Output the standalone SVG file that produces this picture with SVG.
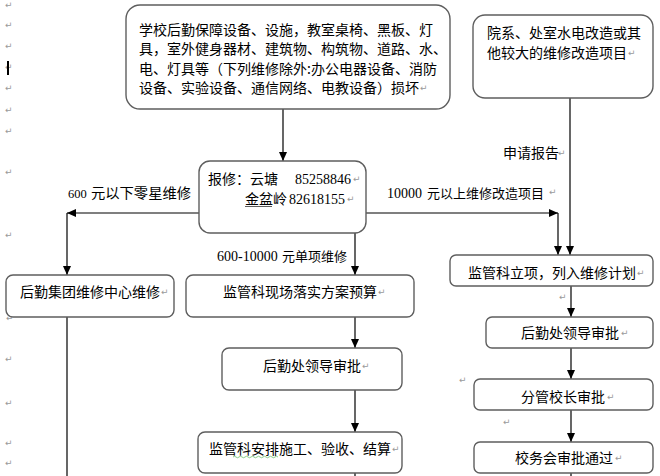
<svg xmlns="http://www.w3.org/2000/svg" width="660" height="476" viewBox="0 0 660 476">
<style>
.box{fill:#fff;stroke:#5e5e5e;stroke-width:1.4}
.t{font-family:"Noto Sans CJK SC","Noto Sans",sans-serif;font-size:14px;fill:#000}
.n{font-family:"Liberation Serif","Times New Roman",serif;font-size:14px;fill:#000}
.m{font-family:"DejaVu Sans",sans-serif;font-size:9px;fill:#9a9a9a}
.c{stroke:#000;stroke-width:1.2;fill:none}
</style>
<defs>
<marker id="ah" viewBox="0 0 10 10" refX="10" refY="5" markerWidth="9" markerHeight="8" markerUnits="userSpaceOnUse" orient="auto" preserveAspectRatio="none">
<path d="M0,0 L10,5 L0,10 z" fill="#000"/>
</marker>
</defs>
<rect width="660" height="476" fill="#fff"/>

<g id="margin-marks" class="m">
<text x="5" y="8">↵</text>
<text x="5" y="28">↵</text>
<text x="5" y="49">↵</text>
<text x="5" y="70">↵</text>
<text x="5" y="91">↵</text>
<text x="5" y="113">↵</text>
<text x="5" y="134">↵</text>
<text x="5" y="175">↵</text>
<text x="5" y="238">↵</text>
<text x="6" y="321">↵</text>
<text x="5" y="362">↵</text>
<text x="5" y="406">↵</text>
<text x="5" y="446">↵</text>
<text x="5" y="466">↵</text>
<text x="559" y="300">↵</text>
<text x="459" y="383">↵</text>
<text x="503" y="425">↵</text>
</g>
<rect x="7" y="61" width="2" height="14" fill="#000"/>

<g id="connectors">
<path class="c" d="M283,109 V161" marker-end="url(#ah)"/>
<path class="c" d="M199,213 H67" marker-end="url(#ah)"/>
<path class="c" d="M67,213 V275" marker-end="url(#ah)"/>
<path class="c" d="M366,213 H558" marker-end="url(#ah)"/>
<path class="c" d="M558,213 V255" marker-end="url(#ah)"/>
<path class="c" d="M570,98 V255" marker-end="url(#ah)"/>
<path class="c" d="M355,233 V275" marker-end="url(#ah)"/>
<path class="c" d="M67,317 V476"/>
<path class="c" d="M355,317 V348" marker-end="url(#ah)"/>
<path class="c" d="M355,390 V432" marker-end="url(#ah)"/>
<path class="c" d="M355,473 V476"/>
<path class="c" d="M571,286 V317" marker-end="url(#ah)"/>
<path class="c" d="M571,348 V379" marker-end="url(#ah)"/>
<path class="c" d="M571,410 V442" marker-end="url(#ah)"/>
<path class="c" d="M571,473 V476"/>
</g>

<g id="edge-labels">
<text class="n" x="68" y="198" style="font-size:12.5px">600</text>
<text class="t" x="91" y="198" textLength="100" lengthAdjust="spacingAndGlyphs">元以下零星维修</text>
<text class="n" x="387" y="198">10000</text>
<text class="t" x="427" y="198" style="font-size:13px">元以上维修改造项目</text>
<text class="m" x="549" y="195">↵</text>
<text class="n" x="217" y="261">600-10000</text>
<text class="t" x="282" y="261" style="font-size:13px">元单项维修</text>
<text class="t" x="503" y="158">申请报告</text>
<text class="m" x="558" y="156">↵</text>
</g>

<g id="n-damage">
<rect class="box" x="126" y="5" width="324" height="104" rx="14"/>
<text class="t" x="139" y="35">学校后勤保障设备、设施，教室桌椅、黑板、灯</text>
<text class="t" x="139" y="54">具，室外健身器材、建筑物、构筑物、道路、水、</text>
<text class="t" x="139" y="74">电、灯具等（下列维修除外:办公电器设备、消防</text>
<text class="t" x="139" y="93">设备、实验设备、通信网络、电教设备）损坏</text>
<text class="m" x="420" y="91">↵</text>
</g>

<g id="n-large">
<rect class="box" x="473" y="15" width="180" height="83" rx="12"/>
<text class="t" x="487" y="38">院系、处室水电改造或其</text>
<text class="t" x="487" y="58">他较大的维修改造项目</text>
<text class="m" x="628" y="56">↵</text>
</g>

<g id="n-report">
<rect class="box" x="199" y="161" width="167" height="72" rx="11"/>
<text class="t" x="208" y="184">报修：云塘</text>
<text class="n" x="295" y="184">85258846</text>
<text class="m" x="353" y="182">↵</text>
<text class="t" x="245" y="204">金盆岭</text>
<text class="n" x="289" y="204">82618155</text>
<text class="m" x="347" y="202">↵</text>
<path d="M245,206.5 H272" stroke="#333" stroke-width="0.8"/>
</g>

<g id="n-center">
<rect class="box" x="6" y="275" width="168" height="42" rx="7"/>
<text class="t" x="20" y="297">后勤集团维修中心维修</text>
<text class="m" x="161" y="295">↵</text>
</g>

<g id="n-budget">
<rect class="box" x="186" y="275" width="228" height="42" rx="7"/>
<text class="t" x="223" y="297">监管科现场落实方案预算</text>
<text class="m" x="378" y="295">↵</text>
</g>

<g id="n-approve-mid">
<rect class="box" x="222" y="348" width="180" height="42" rx="7"/>
<text class="t" x="263" y="371">后勤处领导审批</text>
<text class="m" x="362" y="369">↵</text>
</g>

<g id="n-construct">
<rect class="box" x="198" y="432" width="204" height="41" rx="7"/>
<text class="t" x="209" y="454">监管科安排施工、验收、结算</text>
<text class="m" x="392" y="452">↵</text>
<path d="M233,457 q1.5,-1.5 3,0 t3,0 t3,0 t3,0 t3,0 t3,0 t3,0 t3,0 t3,0 t3,0 t3,0 t3,0 t3,0 t3,0 t3,0" stroke="#6cbf6c" stroke-width="0.8" fill="none"/>
</g>

<g id="n-plan">
<rect class="box" x="450" y="255" width="203" height="31" rx="6"/>
<text class="t" x="468" y="278">监管科立项，列入维修计划</text>
<text class="m" x="637" y="276">↵</text>
</g>

<g id="n-approve-right">
<rect class="box" x="486" y="317" width="167" height="31" rx="6"/>
<text class="t" x="521" y="338">后勤处领导审批</text>
<text class="m" x="621" y="336">↵</text>
</g>

<g id="n-vice">
<rect class="box" x="474" y="379" width="179" height="31" rx="6"/>
<text class="t" x="521" y="402">分管校长审批</text>
<text class="m" x="607" y="400">↵</text>
</g>

<g id="n-council">
<rect class="box" x="474" y="442" width="179" height="31" rx="6"/>
<text class="t" x="515" y="463">校务会审批通过</text>
<text class="m" x="615" y="461">↵</text>
</g>
</svg>
